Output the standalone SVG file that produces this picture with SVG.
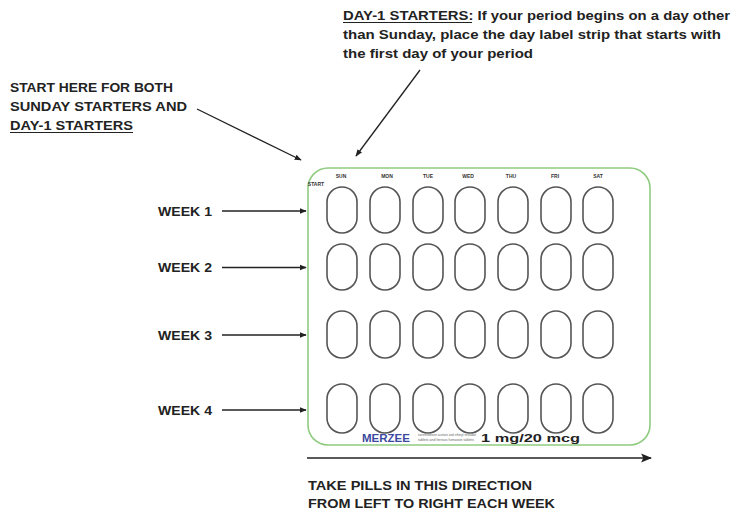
<svg xmlns="http://www.w3.org/2000/svg" width="734" height="512" viewBox="0 0 734 512">
<defs>
<marker id="ah" viewBox="0 0 10 10" refX="9" refY="5" markerWidth="7" markerHeight="7" orient="auto" markerUnits="userSpaceOnUse"><path d="M0,1 L10,5 L0,9 z" fill="#222"/></marker>
<marker id="ahb" viewBox="0 0 10 10" refX="9" refY="5" markerWidth="11" markerHeight="11" orient="auto" markerUnits="userSpaceOnUse"><path d="M0,1 L10,5 L0,9 L2,5 z" fill="#222"/></marker>
</defs>
<style>
.t{font-family:"Liberation Sans",Arial,sans-serif;font-weight:bold;fill:#222;font-size:13px}
.d{font-family:"Liberation Sans",Arial,sans-serif;font-weight:bold;fill:#333;font-size:5px;text-anchor:middle}
.pill{fill:#fff;stroke:#555;stroke-width:1.6}
.ln{stroke:#222;stroke-width:1.3;fill:none}
.u{stroke:#222;stroke-width:1.2}
</style>
<rect width="734" height="512" fill="#fff"/>
<g id="note-day1">
<text class="t" x="343" y="20" textLength="387" lengthAdjust="spacingAndGlyphs">DAY-1 STARTERS: If your period begins on a day other</text>
<line class="u" x1="343" y1="22.5" x2="472" y2="22.5"/>
<text class="t" x="343" y="39" textLength="378" lengthAdjust="spacingAndGlyphs">than Sunday, place the day label strip that starts with</text>
<text class="t" x="343" y="58" textLength="190" lengthAdjust="spacingAndGlyphs">the first day of your period</text>
</g>
<g id="note-start">
<text class="t" x="10" y="92" textLength="163" lengthAdjust="spacingAndGlyphs">START HERE FOR BOTH</text>
<text class="t" x="10" y="111" textLength="177" lengthAdjust="spacingAndGlyphs">SUNDAY STARTERS AND</text>
<text class="t" x="10" y="130" textLength="123" lengthAdjust="spacingAndGlyphs">DAY-1 STARTERS</text>
<line class="u" x1="10" y1="132.5" x2="133" y2="132.5"/>
</g>
<g id="week-labels">
<text class="t" x="158" y="215.5" textLength="54" lengthAdjust="spacingAndGlyphs">WEEK 1</text>
<text class="t" x="158" y="272" textLength="54" lengthAdjust="spacingAndGlyphs">WEEK 2</text>
<text class="t" x="158" y="339.5" textLength="54" lengthAdjust="spacingAndGlyphs">WEEK 3</text>
<text class="t" x="158" y="414.5" textLength="54" lengthAdjust="spacingAndGlyphs">WEEK 4</text>
</g>
<g id="card">
<rect x="308" y="168" width="342" height="277" rx="20" fill="#fff" stroke="#8fcb7f" stroke-width="1.6"/>
<text class="d" x="316" y="185.5" font-size="5.5">START</text>
<text class="d" x="341" y="178">SUN</text>
<text class="d" x="387" y="178">MON</text>
<text class="d" x="428" y="178">TUE</text>
<text class="d" x="468" y="178">WED</text>
<text class="d" x="511" y="178">THU</text>
<text class="d" x="555" y="178">FRI</text>
<text class="d" x="598" y="178">SAT</text>
<g id="pills">
<rect class="pill" x="327" y="187" width="30" height="46" rx="15"/>
<rect class="pill" x="370" y="187" width="30" height="46" rx="15"/>
<rect class="pill" x="413" y="187" width="30" height="46" rx="15"/>
<rect class="pill" x="455" y="187" width="30" height="46" rx="15"/>
<rect class="pill" x="498" y="187" width="30" height="46" rx="15"/>
<rect class="pill" x="541" y="187" width="30" height="46" rx="15"/>
<rect class="pill" x="583" y="187" width="30" height="46" rx="15"/>
<rect class="pill" x="327" y="244" width="30" height="46" rx="15"/>
<rect class="pill" x="370" y="244" width="30" height="46" rx="15"/>
<rect class="pill" x="413" y="244" width="30" height="46" rx="15"/>
<rect class="pill" x="455" y="244" width="30" height="46" rx="15"/>
<rect class="pill" x="498" y="244" width="30" height="46" rx="15"/>
<rect class="pill" x="541" y="244" width="30" height="46" rx="15"/>
<rect class="pill" x="583" y="244" width="30" height="46" rx="15"/>
<rect class="pill" x="327" y="311" width="30" height="47" rx="15"/>
<rect class="pill" x="370" y="311" width="30" height="47" rx="15"/>
<rect class="pill" x="413" y="311" width="30" height="47" rx="15"/>
<rect class="pill" x="455" y="311" width="30" height="47" rx="15"/>
<rect class="pill" x="498" y="311" width="30" height="47" rx="15"/>
<rect class="pill" x="541" y="311" width="30" height="47" rx="15"/>
<rect class="pill" x="583" y="311" width="30" height="47" rx="15"/>
<rect class="pill" x="327" y="384" width="30" height="49" rx="15"/>
<rect class="pill" x="370" y="384" width="30" height="49" rx="15"/>
<rect class="pill" x="413" y="384" width="30" height="49" rx="15"/>
<rect class="pill" x="455" y="384" width="30" height="49" rx="15"/>
<rect class="pill" x="498" y="384" width="30" height="49" rx="15"/>
<rect class="pill" x="541" y="384" width="30" height="49" rx="15"/>
<rect class="pill" x="583" y="384" width="30" height="49" rx="15"/>
</g>
<text x="362" y="442" font-family="'Liberation Sans',Arial,sans-serif" font-weight="bold" font-size="10.5" fill="#3b4aa0" textLength="48" lengthAdjust="spacingAndGlyphs">MERZEE</text>
<text x="418" y="436" font-family="'Liberation Sans',Arial,sans-serif" font-size="3.3" fill="#666" textLength="58" lengthAdjust="spacingAndGlyphs">norethindrone acetate and ethinyl estradiol</text>
<text x="418" y="440.5" font-family="'Liberation Sans',Arial,sans-serif" font-size="3.3" fill="#666" textLength="56" lengthAdjust="spacingAndGlyphs">tablets and ferrous fumarate tablets</text>
<text x="481" y="442" font-family="'Liberation Sans',Arial,sans-serif" font-weight="bold" font-size="10" fill="#222" textLength="99" lengthAdjust="spacingAndGlyphs">1 mg/20 mcg</text>
</g>
<g id="direction-note">
<text class="t" x="308" y="490" textLength="224" lengthAdjust="spacingAndGlyphs">TAKE PILLS IN THIS DIRECTION</text>
<text class="t" x="308" y="508" textLength="247" lengthAdjust="spacingAndGlyphs">FROM LEFT TO RIGHT EACH WEEK</text>
</g>
<g id="connectors">
<line class="ln" x1="420" y1="70" x2="356" y2="156" marker-end="url(#ah)"/>
<line class="ln" x1="197" y1="109" x2="301" y2="160" marker-end="url(#ah)"/>
<line class="ln" x1="222" y1="211" x2="306" y2="211" marker-end="url(#ah)"/>
<line class="ln" x1="222" y1="267.5" x2="306" y2="267.5" marker-end="url(#ah)"/>
<line class="ln" x1="222" y1="335" x2="306" y2="335" marker-end="url(#ah)"/>
<line class="ln" x1="222" y1="410" x2="306" y2="410" marker-end="url(#ah)"/>
<line class="ln" x1="307" y1="458" x2="651" y2="458" marker-end="url(#ahb)"/>
</g>
</svg>
